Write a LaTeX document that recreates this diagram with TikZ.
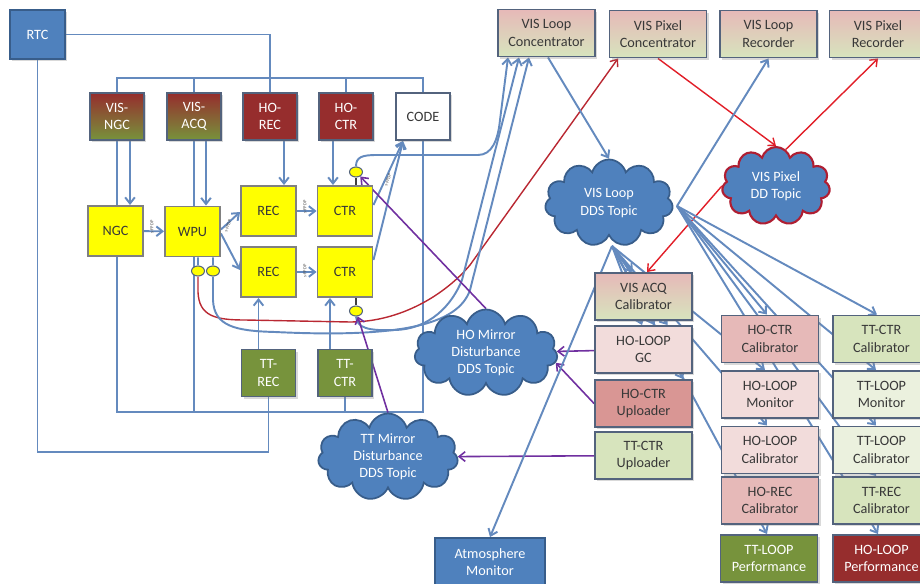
\documentclass[tikz,border=0pt]{standalone}
\usepackage{fontspec}
\newfontfamily\calibri{Carlito}
\usepackage{tikz}
\usetikzlibrary{shapes.symbols, shapes.geometric, arrows.meta, calc, backgrounds, shadows}
\definecolor{rtcblue}{RGB}{79, 129, 189}
\definecolor{rtcedge}{RGB}{56, 93, 138}
\definecolor{wirec}{RGB}{100, 138, 190}
\definecolor{edgec}{RGB}{83, 99, 125}
\definecolor{hored}{RGB}{150, 45, 45}
\definecolor{ttgreen}{RGB}{119, 147, 60}
\definecolor{pinkA}{RGB}{230, 185, 184}
\definecolor{pinkB}{RGB}{242, 220, 219}
\definecolor{pinkC}{RGB}{217, 150, 148}
\definecolor{greenA}{RGB}{215, 228, 189}
\definecolor{greenB}{RGB}{235, 241, 222}
\definecolor{brightred}{RGB}{225, 30, 40}
\definecolor{darkwire}{RGB}{185, 40, 50}
\definecolor{pxedge}{RGB}{175, 30, 50}
\definecolor{purp}{RGB}{112, 48, 160}
\definecolor{ylw}{RGB}{255, 255, 0}

\begin{document}
\begin{tikzpicture}[
   x=0.02cm, y=-0.02cm,
   >={Straight Barb[length=3.5pt, width=5.5pt]},
   blk/.style={draw=edgec, line width=1.1, align=center, inner sep=1,
               font=\calibri\fontsize{8.1}{9.8}\selectfont, text=black!78},
   shblk/.style={blk, drop shadow={opacity=0.3, shadow xshift=1.4pt, shadow yshift=-1.4pt}},
   smallblk/.style={shblk, minimum width=1.08cm, minimum height=0.94cm},
   bigblk/.style={shblk, minimum width=1.94cm, minimum height=0.94cm},
   yelblk/.style={blk, draw=gray, fill=ylw, minimum width=1.1cm, minimum height=1cm},
   bluefill/.style={fill=rtcblue, draw=rtcedge, text=white},
   redfill/.style={fill=hored, text=white},
   grnfill/.style={fill=ttgreen, text=white},
   visgrad/.style={top color=hored, bottom color=ttgreen, text=white},
   pkgrad/.style={top color=pinkA, bottom color=greenA},
   topic/.style={cloud, cloud puffs=11, cloud ignores aspect, draw=rtcedge, fill=rtcblue,
                 line width=1, text=white, align=center, inner sep=0,
                 font=\calibri\fontsize{8.1}{9.8}\selectfont},
   dot/.style={ellipse, draw=edgec, fill=ylw, line width=0.6,
               minimum width=0.26cm, minimum height=0.2cm, inner sep=0},
   wire/.style={wirec, line width=1.1},
   redw/.style={brightred, line width=0.8},
   darkw/.style={darkwire, line width=0.8},
   purw/.style={purp, line width=0.9},
   tag/.style={font=\calibri\fontsize{2.6}{3}\selectfont, text=black!70, inner sep=0}
  ]

  \useasboundingbox (0, 0) rectangle (920, 584);

  % Left block
  \node (rtc) at (37.5, 34.5) [blk, bluefill, minimum width=1.1cm, minimum height=0.98cm,
        drop shadow={opacity=0.3, shadow xshift=1.4pt, shadow yshift=-1.4pt}] {RTC};

  \node (visngc) at (117, 116.5) [smallblk, visgrad] {VIS-\\NGC};
  \node (visacq) at (194, 116.5) [smallblk, visgrad] {VIS-\\ACQ};
  \node (horec)  at (270, 116.5) [smallblk, redfill] {HO-\\REC};
  \node (hoctr)  at (346, 116.5) [smallblk, redfill] {HO-\\CTR};
  \node (code)   at (423, 116.5) [smallblk, fill=white] {CODE};

  \node (ngc)  at (115.5, 231)  [yelblk] {NGC};
  \node (wpu)  at (192.5, 231.5) [yelblk] {WPU};
  \node (rec1) at (268.5, 211)  [yelblk] {REC};
  \node (ctr1) at (345, 211)    [yelblk] {CTR};
  \node (rec2) at (268.5, 272)  [yelblk] {REC};
  \node (ctr2) at (345, 272)    [yelblk] {CTR};

  \node (ttrec) at (268.5, 373) [smallblk, grnfill] {TT-\\REC};
  \node (ttctr) at (345, 373)   [smallblk, grnfill] {TT-\\CTR};

  \node (wm1) at (198, 271) [dot] {};
  \node (wm2) at (213, 271) [dot] {};
  \node (cm1) at (356, 172) [dot] {};
  \node (cm2) at (356, 311) [dot] {};

  \node (t1) at (152, 227) [tag, rotate=90] {s-FPDP};
  \node (t2) at (228, 226) [tag, rotate=70] {s-FPDP};
  \node (t3) at (305, 207) [tag, rotate=90] {s-FPDP};
  \node (t4) at (305, 271) [tag, rotate=90] {s-FPDP};
  \node (t5) at (388, 180) [tag, rotate=70] {s-FPDP};

  % Right block
  \node (vlc)   at (546.5, 33) [bigblk, pkgrad] {VIS Loop\\Concentrator};
  \node (vpc)   at (658, 34)   [bigblk, pkgrad] {VIS Pixel\\Concentrator};
  \node (vlrec) at (768.5, 34) [bigblk, pkgrad] {VIS Loop\\Recorder};
  \node (vprec) at (878, 34)   [bigblk, pkgrad] {VIS Pixel\\Recorder};

  \node (vacal) at (643.5, 296.5) [bigblk, pkgrad] {VIS ACQ\\Calibrator};
  \node (hlgc)  at (643.5, 349.5) [bigblk, fill=pinkB] {HO-LOOP\\GC};
  \node (hcup)  at (643.5, 403.5) [bigblk, fill=pinkC] {HO-CTR\\Uploader};
  \node (tcup)  at (643.5, 455.5) [bigblk, fill=greenA] {TT-CTR\\Uploader};

  \node (hccal) at (770, 339)   [bigblk, fill=pinkA] {HO-CTR\\Calibrator};
  \node (hlmon) at (770, 394.5) [bigblk, fill=pinkB] {HO-LOOP\\Monitor};
  \node (hlcal) at (770, 450)   [bigblk, fill=pinkB] {HO-LOOP\\Calibrator};
  \node (hrcal) at (770, 500.5) [bigblk, fill=pinkA] {HO-REC\\Calibrator};
  \node (tlprf) at (769, 558.5) [bigblk, grnfill] {TT-LOOP\\Performance};

  \node (tccal) at (881.5, 339)   [bigblk, fill=greenA] {TT-CTR\\Calibrator};
  \node (tlmon) at (881.5, 394.5) [bigblk, fill=greenB] {TT-LOOP\\Monitor};
  \node (tlcal) at (881.5, 450)   [bigblk, fill=greenB] {TT-LOOP\\Calibrator};
  \node (trcal) at (881.5, 500.5) [bigblk, fill=greenA] {TT-REC\\Calibrator};
  \node (hlprf) at (881.5, 558.5) [bigblk, redfill] {HO-LOOP\\Performance};

  \node (atm) at (490, 562) [blk, bluefill, minimum width=2.2cm, minimum height=0.96cm] {Atmosphere\\Monitor};

  % Topics
  \node (vlt) at (609, 203) [topic, minimum width=2.56cm, minimum height=1.74cm] {VIS Loop\\DDS Topic};
  \node (vpt) at (776, 186) [topic, draw=pxedge, line width=1.2, minimum width=2.16cm,
        minimum height=1.56cm] {VIS Pixel\\DD Topic};
  \node (hmt) at (486, 353) [topic, minimum width=2.86cm, minimum height=1.74cm] {HO Mirror\\Disturbance\\DDS Topic};
  \node (tmt) at (388, 457) [topic, minimum width=2.8cm, minimum height=1.74cm] {TT Mirror\\Disturbance\\DDS Topic};

  \coordinate (vlb) at (612, 246);
  \coordinate (vlr) at (677, 206);
  \coordinate (ftl) at (117, 78);
  \coordinate (fbr) at (423, 412);
  \coordinate (rtcbot) at (37.5, 452);

  \begin{scope}[on background layer]
    % wiring of the left block
    \draw[wire] (rtc.east) -| (horec.north);
    \draw[wire] (rtc.south) -- (rtcbot) -| (ttrec.south);
    \draw[wire] (ftl) rectangle (fbr);
    \draw[wire] (visacq.center |- ftl) -- (visacq.center |- fbr);
    \draw[wire] (hoctr.north) -- (hoctr.north |- ftl);
    \draw[wire] (ttctr.south) -- (ttctr.south |- fbr);

    \draw[wire, ->] ($(visngc.south)+(13, 0)$) -- ($(ngc.north)+(14.5, 0)$);
    \draw[wire, ->] ($(visacq.south)+(12, 0)$) -- ($(wpu.north)+(13.5, 0)$);
    \draw[wire, ->] ($(horec.south)+(14, 0)$) -- ($(rec1.north)+(15.5, 0)$);
    \draw[wire, ->] ($(hoctr.south)+(-13, 0)$) -- ($(ctr1.north)+(-12, 0)$);
    \draw[wire, ->] ($(ttrec.north)+(-10, 0)$) -- ($(rec2.south)+(-10, 0)$);
    \draw[wire, ->] ($(ttctr.north)+(-15, 0)$) -- ($(ctr2.south)+(-15, 0)$);

    \foreach \B/\E in {ngc/wpu, rec1/ctr1, rec2/ctr2} {
      \draw[wire, ->] (\B) -- (\E);
    }
    \draw[wire, ->] ($(wpu.east)+(0, -2)$) -- ($(rec1.west)+(0, 1)$);
    \draw[wire, ->] ($(wpu.east)+(0, 2)$) -- ($(rec2.west)+(0, -2)$);
    \draw[wire, ->] ($(ctr1.east)+(0, -6)$) -- ($(code.south)+(-20, 0)$);
    \draw[wire, ->] ($(ctr2.east)+(0, -12)$) -- ($(code.south)+(-20, 0)$);

    \draw[wire] ($(wpu.south)+(5.5, 0)$) -- (wm1);
    \draw[wire] ($(wpu.south)+(20.5, 0)$) -- (wm2);
    \draw[black!75, line width=0.8] (cm1) -- (cm1 |- ctr1.north);
    \draw[black!75, line width=0.8] (cm2) -- (cm2 |- ctr2.south);

    % taps to the concentrators
    \draw[wire, ->] (cm1.north) .. controls (356, 157) and (362, 155) .. (377, 155)
      -- (478, 155) .. controls (492, 155) and (498, 140) .. (500, 120) -- ($(vlc.south)+(-38.5, 0)$);
    \draw[darkw, ->] (wm1.south) -- (198, 292) .. controls (199, 316) and (215, 320) .. (245, 320)
      -- (350, 322) .. controls (400, 322) and (445, 295) .. (470, 265) -- ($(vpc.south)+(-40, 0)$);
    \draw[wire, ->] (wm2.south) -- (213, 300) .. controls (214, 326) and (235, 331) .. (275, 332)
      .. controls (400, 338) and (458, 325) .. (470, 290) -- ($(vlc.south)+(-17.5, 0)$);
    \draw[wire, ->] (cm2.south) .. controls (357, 328) and (368, 331) .. (395, 330)
      .. controls (430, 329) and (452, 305) .. (462, 280) -- ($(vlc.south)+(-27.5, 0)$);

    % mirror disturbance topics
    \draw[purw, ->] (hmt.north) -- (cm1);
    \draw[purw, ->] (tmt.north) -- (cm2);
    \draw[purw, ->] (hlgc) -- (hmt);
    \draw[purw, ->] (hcup.west) -- (hmt.-8);
    \draw[purw, ->] (tcup) -- (tmt);

    % VIS pixel topic
    \draw[redw, ->] (vpc.south) -- (vpt.north);
    \draw[redw, ->] (vpt.75) -- (vprec.south);
    \draw[redw, ->] (vpt.west) -- ($(vacal.north)+(3.5, 0)$);

    % VIS loop topic
    \draw[wire, ->] ($(vlc.south)+(1.5, 0)$) -- (vlt.north);
    \draw[wire, ->] (vlr) -- (vlrec.south);
    \draw[wire, ->] (vlb) -- (atm.north);
    \foreach \E/\dx in {vacal/-11, hlgc/-1.5, hlgc/11, hlgc/24, hcup/39.5,
                        hlmon/-5, hlcal/-3, tlprf/-2} {
      \draw[wire, ->] (vlb) -- ($(\E.north)+(\dx, 0)$);
    }
    \foreach \E/\dx in {hccal/-3, tccal/-4.5, tlmon/-5.5, tlcal/-5.5, trcal/-5.5, hlprf/-3.5} {
      \draw[wire, ->] (vlr) -- ($(\E.north)+(\dx, 0)$);
    }
  \end{scope}

\end{tikzpicture}
\end{document}
